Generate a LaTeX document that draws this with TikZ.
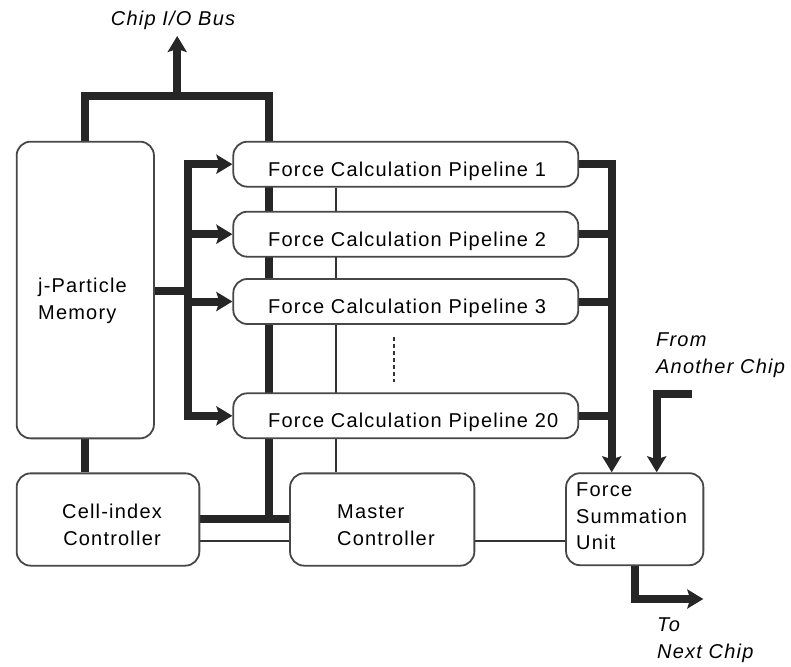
\documentclass[tikz,border=0pt]{standalone}
\usepackage{fontspec}
\setmainfont[LetterSpace=6]{Liberation Sans}
\usetikzlibrary{arrows.meta,backgrounds}
\begin{document}
\begin{tikzpicture}[x=1pt,y=-1pt,
  box/.style={draw=black!72, line width=1.8pt, fill=white, rounded corners=14pt, inner sep=0pt},
  pipe/.style={box, minimum width=345pt, minimum height=45pt},
  bus/.style={draw=black!85, line width=8pt},
  thinln/.style={draw=black!80, line width=1.8pt},
  tip/.style={-{Stealth[length=16pt,width=19pt,inset=3pt]}},
  tipboth/.style={{Stealth[length=16pt,width=19pt,inset=3pt]}-{Stealth[length=16pt,width=19pt,inset=3pt]}},
  txt/.style={inner sep=0pt, font=\fontsize{20}{27.5}\selectfont},
  itxt/.style={inner sep=0pt, font=\fontsize{20}{27}\selectfont\itshape}
]
\useasboundingbox (0,0) rectangle (791,666);

% boxes
\node[box, minimum width=137.3pt, minimum height=296.7pt] (mem) at (85.3,290) {};
\node[pipe] (p1) at (405.8,164.2) {};
\node[pipe] (p2) at (405.8,234.2) {};
\node[pipe] (p3) at (405.8,301.5) {};
\node[pipe] (p20) at (405.8,415.8) {};
\node[box, minimum width=182.7pt, minimum height=92.3pt] (cic) at (108,519.5) {};
\node[box, minimum width=184.3pt, minimum height=92.3pt] (mc) at (382.2,519.5) {};
\node[box, minimum width=137.3pt, minimum height=92pt] (fsu) at (634.7,519.2) {};

% texts
\node[txt, anchor=west, align=left] (memt) at (38,301) {j-Particle\\Memory};
\node[txt, anchor=base west] (p1t) at (268,176.5) {Force Calculation Pipeline 1};
\node[txt, anchor=base west] (p2t) at (268,246.5) {Force Calculation Pipeline 2};
\node[txt, anchor=base west] (p3t) at (268,313.5) {Force Calculation Pipeline 3};
\node[txt, anchor=base west] (p20t) at (268,427.5) {Force Calculation Pipeline 20};
\node[txt, align=center] (cict) at (112,525) {Cell-index\\Controller};
\node[txt, anchor=west, align=left] (mct) at (337,525) {Master\\Controller};
\node[txt, anchor=west, align=left, font=\fontsize{20}{26.5}\selectfont] (fsut) at (576,516.5) {Force\\Summation\\Unit};
\node[itxt, anchor=base] (iot) at (173,26) {Chip I/O Bus};
\node[itxt, anchor=west, align=left] (fromt) at (656,355.5) {From\\Another Chip};
\node[itxt, anchor=west, align=left] (tot) at (657,640.5) {To\\Next Chip};

\begin{scope}[on background layer]
  % chip I/O bus
  \coordinate (br) at (268.5,96);
  \coordinate (jr) at (268.5,518.8);
  \draw[bus] (mem.north) |- (br) -- (jr);
  \draw[bus] (cic.east |- jr) -- (mc.west |- jr);
  \coordinate (iob) at (177.2,96);
  \coordinate (iotip) at (177.2,36);
  \draw[bus,tip] (iob) -- (iotip);
  % distribution to pipelines
  \coordinate (dx) at (188.3,290.8);
  \draw[bus] (mem.east |- dx) -- (dx);
  \draw[bus,tipboth] (p1.west) -| (dx) |- (p20.west);
  \draw[bus,tip] (p2.west -| dx) -- (p2.west);
  \draw[bus,tip] (p3.west -| dx) -- (p3.west);
  % collection to summation
  \coordinate (ox) at (611.7,300);
  \draw[bus,tip] (p1.east) -| (fsu.north -| ox);
  \draw[bus] (p2.east) -- (p2.east -| ox);
  \draw[bus] (p3.east) -- (p3.east -| ox);
  \draw[bus] (p20.east) -- (p20.east -| ox);
  % from another chip
  \coordinate (ac) at (691.7,393.5);
  \coordinate (acx) at (656.7,393.5);
  \draw[bus,tip] (ac) -- (acx) -- (fsu.north -| acx);
  % to next chip
  \coordinate (nx) at (703.3,599);
  \draw[bus,tip] (fsu.south) |- (nx);
  % memory to cell-index
  \draw[bus] (mem.south) -- (mem.south |- cic.north);
  % thin lines
  \coordinate (tx) at (336,300);
  \draw[thinln] (p1.south -| tx) -- (mc.north -| tx);
  \coordinate (ty) at (300,540.7);
  \draw[thinln] (cic.east |- ty) -- (mc.west |- ty);
  \draw[thinln] (mc.east |- ty) -- (fsu.west |- ty);
  \coordinate (d1) at (394,337);
  \coordinate (d2) at (394,382);
  \draw[thinln, dash pattern=on 4pt off 3pt] (d1) -- (d2);
\end{scope}
\end{tikzpicture}
\end{document}
